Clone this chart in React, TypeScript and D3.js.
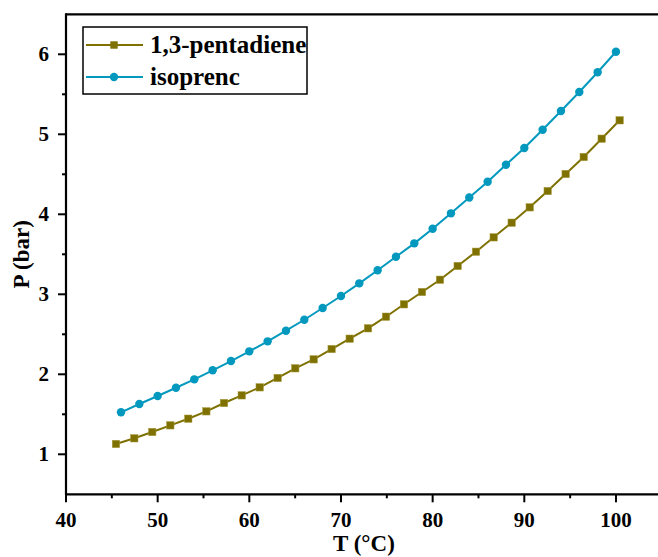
import React from "react";
import * as d3 from "d3";

const pentadieneT = [45.45, 47.45, 49.41, 51.38, 53.34, 55.31, 57.24, 59.17, 61.13, 63.09, 65.01, 67.02, 68.98, 70.95, 72.95, 74.91, 76.87, 78.84, 80.8, 82.73, 84.73, 86.66, 88.62, 90.59, 92.55, 94.51, 96.48, 98.44, 100.4];
const pentadieneP = [1.129, 1.2, 1.279, 1.362, 1.445, 1.537, 1.641, 1.737, 1.837, 1.954, 2.075, 2.187, 2.316, 2.445, 2.575, 2.72, 2.875, 3.029, 3.182, 3.354, 3.532, 3.712, 3.895, 4.087, 4.291, 4.504, 4.716, 4.945, 5.175];
const isopreneT = [46, 48, 50, 52, 54, 56, 58, 60, 62, 64, 66, 68, 70, 72, 74, 76, 78, 80, 82, 84, 86, 88, 90, 92, 94, 96, 98, 100];
const isopreneP = [1.525, 1.629, 1.729, 1.832, 1.937, 2.05, 2.166, 2.287, 2.412, 2.545, 2.682, 2.829, 2.979, 3.137, 3.3, 3.47, 3.637, 3.82, 4.012, 4.21, 4.406, 4.619, 4.829, 5.057, 5.291, 5.529, 5.775, 6.032];
const xTicks = [40, 50, 60, 70, 80, 90, 100];
const xMinor = [45, 55, 65, 75, 85, 95, 105];
const yTicks = [1, 2, 3, 4, 5, 6];
const yMinor = [1.5, 2.5, 3.5, 4.5, 5.5];
const seriesNames = ["1,3-pentadiene", "isoprenc"];
const colors = ["#7f7100", "#0399be"];

const W = 658, H = 557;
const FONT = "Liberation Serif, Times New Roman, serif";
const tStyle: React.CSSProperties = { fontFamily: FONT, fontWeight: 700 };

export default function App() {
  const x = d3.scaleLinear().domain([40, 105]).range([66, 661.8]);
  const y = d3.scaleLinear().domain([0.5, 6.5]).range([494.3, 14.3]);
  const line = d3.line<[number, number]>().x(d => x(d[0])).y(d => y(d[1]));
  const pent: [number, number][] = pentadieneT.map((t, i) => [t, pentadieneP[i]]);
  const iso: [number, number][] = isopreneT.map((t, i) => [t, isopreneP[i]]);
  const x0 = x.range()[0], x1 = x.range()[1];
  const y0 = y.range()[0], y1 = y.range()[1];
  return (
    <svg width={W} height={H} style={{ position: "absolute", left: 0, top: 0, background: "#fff" }}>
      {/* series */}
      <path d={line(pent) || ""} fill="none" stroke={colors[0]} strokeWidth={2} />
      {pent.map((d, i) => (
        <rect key={"p" + i} x={x(d[0]) - 3.7} y={y(d[1]) - 3.7} width={7.4} height={7.4} fill={colors[0]} stroke="#a89a40" strokeWidth={0.5} />
      ))}
      <path d={line(iso) || ""} fill="none" stroke={colors[1]} strokeWidth={2} />
      {iso.map((d, i) => (
        <circle key={"i" + i} cx={x(d[0])} cy={y(d[1])} r={4.2} fill={colors[1]} />
      ))}
      {/* frame */}
      <line x1={x0} x2={x1} y1={y1} y2={y1} stroke="#000" strokeWidth={2.2} />
      <line x1={x0 - 1} x2={x1} y1={y0} y2={y0} stroke="#000" strokeWidth={2.2} />
      <line x1={x0} x2={x0} y1={y1 - 1} y2={y0 + 1} stroke="#000" strokeWidth={2.2} />
      {/* x ticks */}
      {xTicks.map(t => (
        <g key={"xt" + t}>
          <line x1={x(t)} x2={x(t)} y1={y0} y2={y0 + 8} stroke="#000" strokeWidth={2} />
          <text x={x(t)} y={527} textAnchor="middle" fontSize={21} style={tStyle}>{t}</text>
        </g>
      ))}
      {xMinor.map(t => (
        <line key={"xm" + t} x1={x(t)} x2={x(t)} y1={y0} y2={y0 + 4} stroke="#000" strokeWidth={2} />
      ))}
      {/* y ticks */}
      {yTicks.map(t => (
        <g key={"yt" + t}>
          <line x1={x0} x2={x0 - 8} y1={y(t)} y2={y(t)} stroke="#000" strokeWidth={2} />
          <text x={49} y={y(t) + 7} textAnchor="end" fontSize={21} style={tStyle}>{t}</text>
        </g>
      ))}
      {yMinor.map(t => (
        <line key={"ym" + t} x1={x0} x2={x0 - 4} y1={y(t)} y2={y(t)} stroke="#000" strokeWidth={2} />
      ))}
      {/* axis titles */}
      <text x={(x0 + x1) / 2} y={551} textAnchor="middle" fontSize={23} style={tStyle}>T (°C)</text>
      <text transform={`translate(29,${(y0 + y1) / 2}) rotate(-90)`} textAnchor="middle" fontSize={23} style={tStyle}>P (bar)</text>
      {/* legend */}
      <rect x={83} y={27} width={224} height={67} fill="#fff" stroke="#000" strokeWidth={1.5} />
      {seriesNames.map((name, i) => {
        const ly = i === 0 ? 45 : 77;
        return (
          <g key={name}>
            <line x1={86} x2={143} y1={ly} y2={ly} stroke={colors[i]} strokeWidth={2} />
            {i === 0 ? (
              <rect x={114 - 3.7} y={ly - 3.7} width={7.4} height={7.4} fill={colors[0]} />
            ) : (
              <circle cx={114} cy={ly} r={4.2} fill={colors[1]} />
            )}
            <text x={150} y={ly + 8} fontSize={25} style={tStyle}>{name}</text>
          </g>
        );
      })}
    </svg>
  );
}
